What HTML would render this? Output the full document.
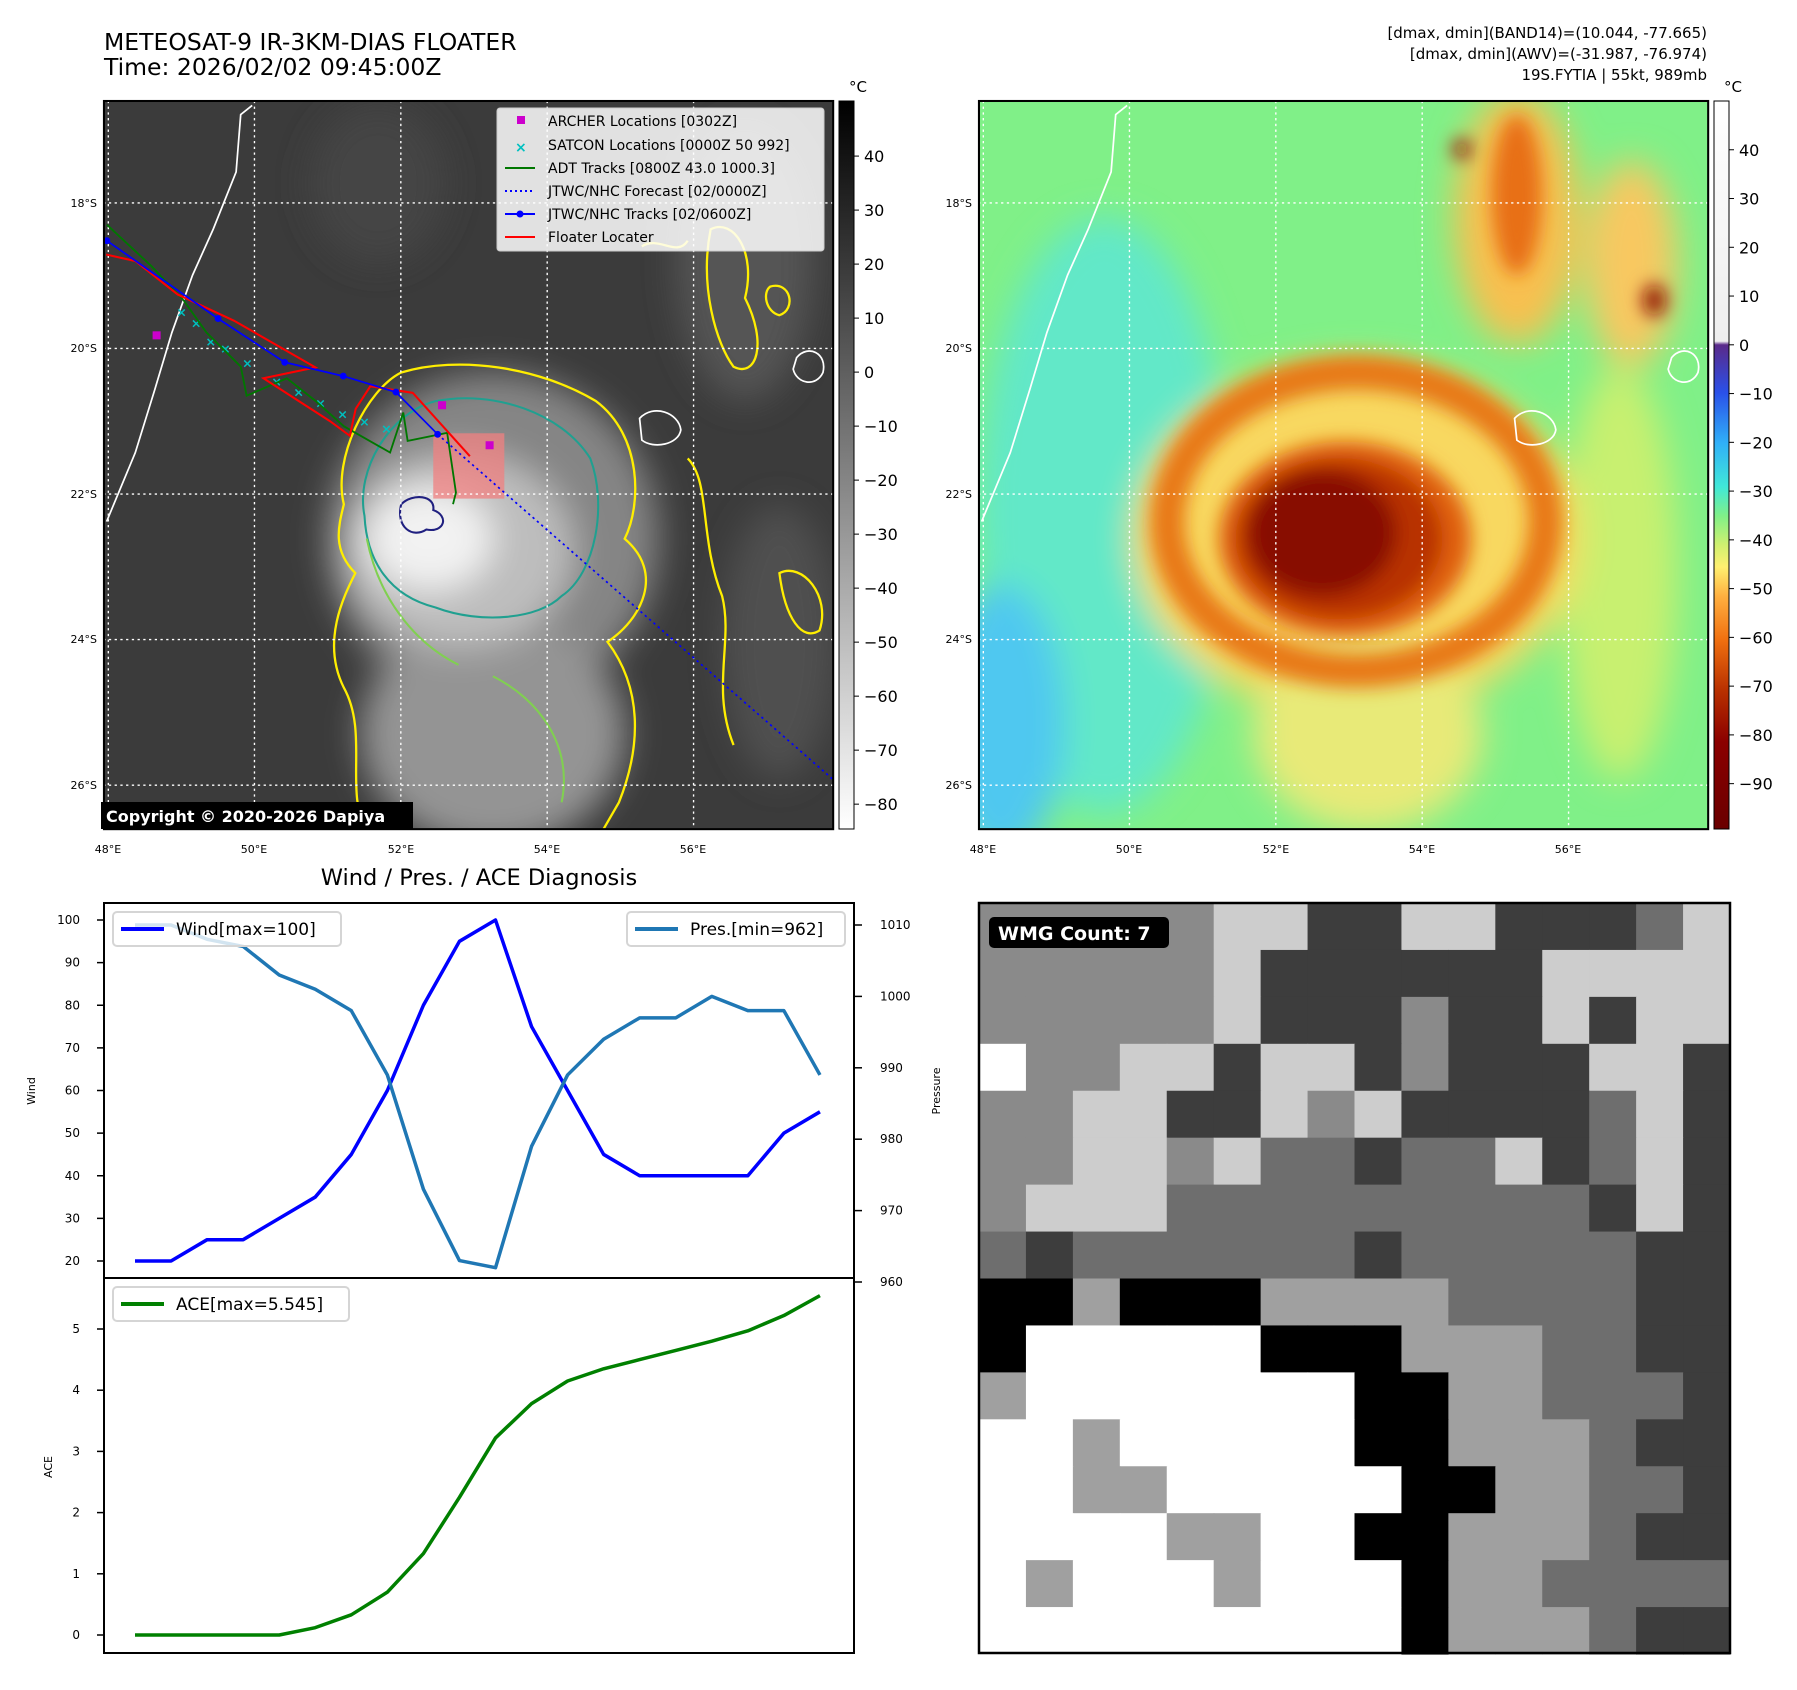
<!DOCTYPE html>
<html><head><meta charset="utf-8"><style>
html,body{margin:0;padding:0;background:#fff;}
svg{display:block;font-family:"DejaVu Sans","Liberation Sans",sans-serif;}
</style></head><body>
<svg id="fig" width="1797" height="1690" viewBox="0 0 1797 1690" xmlns="http://www.w3.org/2000/svg">
<defs>
  <clipPath id="clipL"><rect x="90.7" y="88.1" width="636.2" height="635.3"/></clipPath>
  <filter id="blur8" x="-50%" y="-50%" width="200%" height="200%"><feGaussianBlur stdDeviation="8"/></filter>
  <filter id="blur15" x="-50%" y="-50%" width="200%" height="200%"><feGaussianBlur stdDeviation="15"/></filter>
  <linearGradient id="cb1" x1="0" y1="0" x2="0" y2="1"><stop offset="0" stop-color="#000"/><stop offset="1" stop-color="#fff"/></linearGradient>
  <linearGradient id="cb2" x1="0" y1="0" x2="0" y2="1">
    <stop offset="0" stop-color="#ffffff"/><stop offset="0.33" stop-color="#eeeeee"/>
    <stop offset="0.335" stop-color="#5a2a8a"/><stop offset="0.40" stop-color="#2a50e8"/>
    <stop offset="0.47" stop-color="#30b0f8"/><stop offset="0.53" stop-color="#40e8d8"/>
    <stop offset="0.57" stop-color="#80f088"/><stop offset="0.61" stop-color="#d0f070"/>
    <stop offset="0.64" stop-color="#fff070"/><stop offset="0.68" stop-color="#ffb040"/>
    <stop offset="0.74" stop-color="#f07010"/><stop offset="0.81" stop-color="#b83000"/>
    <stop offset="0.88" stop-color="#8b0000"/><stop offset="1" stop-color="#6a0000"/>
  </linearGradient>
</defs>

<text x="104" y="50" font-size="23.5" fill="#000">METEOSAT-9 IR-3KM-DIAS FLOATER</text>
<text x="104" y="75" font-size="23.5" fill="#000">Time: 2026/02/02 09:45:00Z</text>
<g font-size="15" text-anchor="end" fill="#000">
  <text x="1707" y="38">[dmax, dmin](BAND14)=(10.044, -77.665)</text>
  <text x="1707" y="59">[dmax, dmin](AWV)=(-31.987, -76.974)</text>
  <text x="1707" y="80">19S.FYTIA | 55kt, 989mb</text>
</g>

<g transform="scale(1.1462)">
 <g clip-path="url(#clipL)">
  <rect x="90" y="88" width="640" height="640" fill="#3b3b3b"/>
  <g filter="url(#blur15)">
   <ellipse cx="650" cy="230" rx="60" ry="120" fill="#555"/>
   <ellipse cx="330" cy="160" rx="60" ry="70" fill="#444"/>
   <ellipse cx="430" cy="470" rx="145" ry="145" fill="#858585"/>
   <ellipse cx="430" cy="640" rx="115" ry="100" fill="#949494"/>
   <ellipse cx="400" cy="480" rx="100" ry="85" fill="#bdbdbd"/>
   <ellipse cx="375" cy="470" rx="55" ry="45" fill="#f2f2f2"/>
   <ellipse cx="680" cy="560" rx="50" ry="120" fill="#505050"/>
  </g>
  <path d="M300,440 C290,400 320,340 350,325 C400,310 470,320 520,350 C560,380 560,440 545,470 C580,500 560,540 530,560 C560,600 560,650 540,700 L525,726 L320,726 C300,690 322,640 300,600 C280,560 300,520 310,500 C290,480 295,460 300,440 Z" fill="none" stroke="#ffee00" stroke-width="2"/>
  <path d="M318,450 C310,410 340,360 380,350 C430,340 490,360 515,400 C530,440 520,500 490,520 C470,540 420,545 380,530 C340,520 320,490 318,450 Z" fill="none" stroke="#20a090" stroke-width="1.8"/>
  <path d="M320,470 C330,520 360,560 400,580 M430,590 C470,610 500,650 490,700" fill="none" stroke="#80d050" stroke-width="1.8"/>
  <path d="M350,440 C360,430 380,432 378,445 C392,450 388,465 372,462 C360,470 345,460 350,440 Z" fill="none" stroke="#202080" stroke-width="1.8"/>
  <path d="M620,200 C640,190 660,220 650,260 C670,300 660,330 640,320 C625,300 610,250 620,200 Z M672,250 C690,245 695,270 680,275 C668,272 665,255 672,250 Z M600,400 C620,420 610,470 630,520 C640,560 620,600 640,650 M680,500 C700,490 725,520 715,550 C700,560 685,540 680,500 Z" fill="none" stroke="#ffee00" stroke-width="2"/>
  <path d="M560,215 C575,205 590,225 600,210" fill="none" stroke="#ffee00" stroke-width="2"/>
  <rect x="378" y="378" width="62" height="57" fill="#f08080" opacity="0.75"/>
  <path d="M220,92 L210,100 L206,150 L186,200 L168,240 L150,290 L135,340 L118,395 L93,455" fill="none" stroke="#fff" stroke-width="1.5"/>
  <path d="M558,365 C570,352 592,360 594,375 C592,388 570,392 560,384 Z" fill="none" stroke="#fff" stroke-width="1.5"/>
  <path d="M695,312 C705,300 722,308 718,325 C712,338 695,335 692,322 Z" fill="none" stroke="#fff" stroke-width="1.5"/>
  <g stroke="#fff" stroke-width="1.2" stroke-dasharray="2,3" fill="none">
   <line x1="222" y1="88" x2="222" y2="724"/><line x1="349.7" y1="88" x2="349.7" y2="724"/><line x1="477.4" y1="88" x2="477.4" y2="724"/><line x1="605.1" y1="88" x2="605.1" y2="724"/>
   <line x1="94.5" y1="88" x2="94.5" y2="724"/>
   <line x1="90" y1="177" x2="728" y2="177"/><line x1="90" y1="304" x2="728" y2="304"/><line x1="90" y1="431" x2="728" y2="431"/><line x1="90" y1="558" x2="728" y2="558"/><line x1="90" y1="685" x2="728" y2="685"/>
  </g>
  <g id="tracks"></g>
 </g>
 <rect x="90.7" y="88.1" width="636.2" height="635.3" fill="none" stroke="#000" stroke-width="1.8"/>
</g>
<g>
 <rect x="497" y="108" width="327" height="143" rx="3" fill="#fff" fill-opacity="0.85" stroke="#ccc"/>
 <g font-size="14" fill="#000">
  <rect x="517" y="116" width="8" height="8" fill="#cc00cc"/><text x="548" y="126">ARCHER Locations [0302Z]</text>
  <text x="515" y="152" fill="#00c0c0" font-size="14" font-weight="bold">×</text><text x="548" y="150">SATCON Locations [0000Z 50 992]</text>
  <line x1="505" y1="168" x2="535" y2="168" stroke="#007700" stroke-width="2"/><text x="548" y="173">ADT Tracks [0800Z 43.0 1000.3]</text>
  <line x1="505" y1="191" x2="535" y2="191" stroke="#0000ff" stroke-width="2" stroke-dasharray="2,3"/><text x="548" y="196">JTWC/NHC Forecast [02/0000Z]</text>
  <line x1="505" y1="214" x2="535" y2="214" stroke="#0000ff" stroke-width="2"/><circle cx="520" cy="214" r="3.5" fill="#0000ff"/><text x="548" y="219">JTWC/NHC Tracks [02/0600Z]</text>
  <line x1="505" y1="237" x2="535" y2="237" stroke="#ff0000" stroke-width="2"/><text x="548" y="242">Floater Locater</text>
 </g>
</g>
<rect x="101" y="802" width="312" height="27" fill="#000"/>
<text x="106" y="822" font-size="16" font-weight="bold" fill="#fff">Copyright © 2020-2026 Dapiya</text>

<g font-size="11" fill="#000">
 <g text-anchor="end">
  <text x="97" y="207">18°S</text><text x="97" y="352">20°S</text><text x="97" y="498">22°S</text><text x="97" y="643">24°S</text><text x="97" y="789">26°S</text>
  <text x="972" y="207">18°S</text><text x="972" y="352">20°S</text><text x="972" y="498">22°S</text><text x="972" y="643">24°S</text><text x="972" y="789">26°S</text>
 </g>
 <g text-anchor="middle">
  <text x="108" y="853">48°E</text><text x="254" y="853">50°E</text><text x="401" y="853">52°E</text><text x="547" y="853">54°E</text><text x="693" y="853">56°E</text>
  <text x="983" y="853">48°E</text><text x="1129" y="853">50°E</text><text x="1276" y="853">52°E</text><text x="1422" y="853">54°E</text><text x="1568" y="853">56°E</text>
 </g>
</g>

<rect x="839" y="101" width="15" height="728" fill="url(#cb1)" stroke="#000" stroke-width="1"/>
<text x="849" y="92" font-size="15">°C</text>
<g id="cb1ticks" font-size="16" fill="#000"></g>

<g transform="translate(875,0) scale(1.1462)">
 <g clip-path="url(#clipL)">
  <rect x="90" y="88" width="640" height="640" fill="#80f088"/>
  <g filter="url(#blur15)">
   <ellipse cx="200" cy="450" rx="110" ry="260" fill="#62e8c8"/>
   <ellipse cx="110" cy="630" rx="55" ry="120" fill="#50c8f0"/>
   <ellipse cx="560" cy="190" rx="55" ry="110" fill="#f8c050"/>
   <ellipse cx="660" cy="230" rx="40" ry="90" fill="#f8c860"/>
   <ellipse cx="650" cy="500" rx="50" ry="180" fill="#c8f070"/>
   <ellipse cx="420" cy="470" rx="195" ry="155" fill="#f8d860"/>
   <ellipse cx="430" cy="640" rx="100" ry="85" fill="#e8ea78"/>
  </g>
  <g filter="url(#blur8)">
   <ellipse cx="420" cy="455" rx="165" ry="130" fill="none" stroke="#e87818" stroke-width="30"/>
   <ellipse cx="410" cy="470" rx="110" ry="85" fill="#e06010"/>
   <ellipse cx="405" cy="470" rx="90" ry="70" fill="#b83000"/>
   <ellipse cx="390" cy="465" rx="65" ry="55" fill="#880800"/>
   <ellipse cx="560" cy="170" rx="22" ry="70" fill="#e87018"/>
   <ellipse cx="680" cy="262" rx="10" ry="14" fill="#901000"/>
   <ellipse cx="512" cy="130" rx="8" ry="8" fill="#901000"/>
  </g>
  <path d="M220,92 L210,100 L206,150 L186,200 L168,240 L150,290 L135,340 L118,395 L93,455" fill="none" stroke="#fff" stroke-width="1.5"/>
  <path d="M558,365 C570,352 592,360 594,375 C592,388 570,392 560,384 Z" fill="none" stroke="#fff" stroke-width="1.5"/>
  <path d="M695,312 C705,300 722,308 718,325 C712,338 695,335 692,322 Z" fill="none" stroke="#fff" stroke-width="1.5"/>
  <g stroke="#fff" stroke-width="1.2" stroke-dasharray="2,3" fill="none">
   <line x1="222" y1="88" x2="222" y2="724"/><line x1="349.7" y1="88" x2="349.7" y2="724"/><line x1="477.4" y1="88" x2="477.4" y2="724"/><line x1="605.1" y1="88" x2="605.1" y2="724"/>
   <line x1="94.5" y1="88" x2="94.5" y2="724"/>
   <line x1="90" y1="177" x2="728" y2="177"/><line x1="90" y1="304" x2="728" y2="304"/><line x1="90" y1="431" x2="728" y2="431"/><line x1="90" y1="558" x2="728" y2="558"/><line x1="90" y1="685" x2="728" y2="685"/>
  </g>
 </g>
 <rect x="90.7" y="88.1" width="636.2" height="635.3" fill="none" stroke="#000" stroke-width="1.8"/>
</g>
<rect x="1714" y="101" width="15" height="728" fill="url(#cb2)" stroke="#000" stroke-width="1"/>
<text x="1724" y="92" font-size="15">°C</text>
<g id="cb2ticks" font-size="16" fill="#000"></g>

<text x="479" y="885" font-size="22.5" text-anchor="middle">Wind / Pres. / ACE Diagnosis</text>
<g id="chart"></g>
<rect x="104" y="903" width="750" height="375" fill="none" stroke="#000" stroke-width="2"/>
<rect x="104" y="1278" width="750" height="375" fill="none" stroke="#000" stroke-width="2"/>
<text transform="translate(35,1091) rotate(-90)" font-size="11" text-anchor="middle">Wind</text>
<text transform="translate(940,1091) rotate(-90)" font-size="11" text-anchor="middle">Pressure</text>
<text transform="translate(52,1467) rotate(-90)" font-size="11" text-anchor="middle">ACE</text>

<g id="wmg"></g>
<rect x="979" y="903" width="751" height="750" fill="none" stroke="#000" stroke-width="2.5"/>
<rect x="989" y="917" width="180" height="31" rx="5" fill="#000"/>
<text x="998" y="940" font-size="19" font-weight="bold" fill="#fff">WMG Count: 7</text>
</svg>

<script>
const NS='http://www.w3.org/2000/svg';
function mk(tag,attrs,parent){const e=document.createElementNS(NS,tag);for(const k in attrs)e.setAttribute(k,attrs[k]);parent.appendChild(e);return e;}

const windValues=[20,20,25,25,30,35,45,60,80,95,100,75,60,45,40,40,40,40,50,55];
const presValues=[1010,1010,1008,1007,1003,1001,998,989,973,963,962,979,989,994,997,997,1000,998,998,989];
const aceValues=[0,0,0,0,0,0.12,0.33,0.7,1.33,2.25,3.22,3.78,4.15,4.35,4.5,4.65,4.8,4.97,5.22,5.545];
const windTicks=[20,30,40,50,60,70,80,90,100];
const presTicks=[960,970,980,990,1000,1010];
const aceTicks=[0,1,2,3,4,5];
const cb1Ticks=[40,30,20,10,0,-10,-20,-30,-40,-50,-60,-70,-80];
const cb2Ticks=[40,30,20,10,0,-10,-20,-30,-40,-50,-60,-70,-80,-90];

const jtwcTrack=[[47.98,18.52],[49.5,19.59],[50.41,20.19],[51.21,20.38],[51.93,20.6],[52.5,21.18]];
const jtwcForecast=[[52.5,21.18],[57.9,25.92]];
const floaterTrack=[[47.97,18.71],[48.37,18.8],[48.95,19.26],[49.72,19.62],[50.83,20.26],[50.12,20.41],[51.03,21.0],[51.3,21.2],[51.38,20.83],[51.58,20.52],[52.16,20.61],[52.94,21.48]];
const adtTrack=[[47.98,18.3],[48.59,18.87],[49.03,19.34],[49.34,19.78],[49.81,20.25],[49.89,20.65],[50.44,20.41],[50.83,20.72],[51.22,21.07],[51.85,21.43],[52.03,20.88],[52.09,21.27],[52.63,21.16],[52.75,21.98],[52.71,22.14]];
const satconPts=[[49.0,19.5],[49.2,19.65],[49.4,19.9],[49.6,20.0],[49.9,20.2],[50.3,20.45],[50.6,20.6],[50.9,20.75],[51.2,20.9],[51.5,21.0],[51.8,21.1]];
const archerPts=[[48.66,19.82],[52.56,20.78],[53.21,21.33]];

const lonX=lon=>94.5+(lon-48)*63.85, latY=lat=>177+(lat-18)*63.5;
const tr=document.getElementById('tracks');
function poly(pts,attrs,name){const p=mk('polyline',Object.assign({points:pts.map(q=>lonX(q[0])+','+latY(q[1])).join(' '),fill:'none'},attrs),tr);
 
 return p;}
satconPts.forEach(q=>{const t=mk('text',{x:lonX(q[0]),y:latY(q[1])+4,'font-size':11,'font-weight':'bold',fill:'#00c0c0','text-anchor':'middle'},tr);t.textContent='×';
 
 });
poly(adtTrack,{stroke:'#007700','stroke-width':1.6},'adt-track');
poly(floaterTrack,{stroke:'#ff0000','stroke-width':1.8},'floater-track');
poly(jtwcTrack,{stroke:'#0000ff','stroke-width':1.5},'jtwc-track');
poly(jtwcForecast,{stroke:'#0000ff','stroke-width':1.5,'stroke-dasharray':'2,3'},'jtwc-forecast');
jtwcTrack.forEach(q=>{const c=mk('circle',{cx:lonX(q[0]),cy:latY(q[1]),r:3,fill:'#0000ff'},tr);
 
 });
archerPts.forEach(q=>{const r=mk('rect',{x:lonX(q[0])-3.5,y:latY(q[1])-3.5,width:7,height:7,fill:'#cc00cc'},tr);
 
 });

function cbTicks(gid,ticks,x,vTop,vBot){const g=document.getElementById(gid);
 ticks.forEach(v=>{const y=101+(vTop-v)/(vTop-vBot)*728;
  mk('line',{x1:x,y1:y,x2:x+5,y2:y,stroke:'#000','stroke-width':1},g);
  const t=mk('text',{x:x+10,y:y+6},g);t.textContent=(v<0?'\u2212'+(-v):v);
  
  });}
cbTicks('cb1ticks',cb1Ticks,854,50.2,-84.6);
cbTicks('cb2ticks',cb2Ticks,1729,50,-99.3);

const ch=document.getElementById('chart');
const X=i=>135+i*36.05;
const yW=v=>920+(100-v)*(341/80);
const yP=v=>925+(1010-v)*(357/50);
const yA=v=>1635-v*(306/5);
windTicks.forEach(v=>{const y=yW(v);mk('line',{x1:97,y1:y,x2:104,y2:y,stroke:'#000','stroke-width':1.5},ch);
 const t=mk('text',{x:80,y:y+4,'font-size':12,'text-anchor':'end'},ch);t.textContent=v;
 
 });
presTicks.forEach(v=>{const y=yP(v);mk('line',{x1:854,y1:y,x2:862,y2:y,stroke:'#000','stroke-width':1.5},ch);
 const t=mk('text',{x:880,y:y+4,'font-size':12},ch);t.textContent=v;
 
 });
aceTicks.forEach(v=>{const y=yA(v);mk('line',{x1:97,y1:y,x2:104,y2:y,stroke:'#000','stroke-width':1.5},ch);
 const t=mk('text',{x:80,y:y+4,'font-size':12,'text-anchor':'end'},ch);t.textContent=v;
 
 });
function line(vals,fy,color,name){const p=mk('polyline',{points:vals.map((v,i)=>X(i)+','+fy(v)).join(' '),fill:'none',stroke:color,'stroke-width':3.5,'stroke-linejoin':'round'},ch);
 
 }
line(windValues,yW,'#0000ff','wind-line');
line(presValues,yP,'#1f77b4','pressure-line');
line(aceValues,yA,'#008000','ace-line');
function legend(x,y,w,color,label,name){const g=mk('g',{},ch);
 
 
 mk('rect',{x:x,y:y,width:w,height:34,rx:4,fill:'#fff','fill-opacity':0.8,stroke:'#d5d5d5','stroke-width':2},g);
 mk('line',{x1:x+8,y1:y+17,x2:x+51,y2:y+17,stroke:color,'stroke-width':4},g);
 const t=mk('text',{x:x+63,y:y+23,'font-size':17},g);t.textContent=label;}
legend(113,912,228,'#0000ff','Wind[max=100]','wind-legend');
legend(627,912,218,'#1f77b4','Pres.[min=962]','pressure-legend');
legend(113,1287,236,'#008000','ACE[max=5.545]','ace-legend');

const wmgRows=[
'6666644114411124','6666641111114444','6666641116114144','5664414416111441',
'6644114641111241','6644642212241241','6444222222222141','2122222212222211',
'0030003333222211','0555550003332211','3555555500332221','5535555500333211',
'5533555550033221','5555335500333211','5355535550332222','5555555550333211'];
const shade={'0':'#000','1':'#3d3d3d','2':'#6e6e6e','3':'#a0a0a0','4':'#cdcdcd','5':'#fff','6':'#8a8a8a'};
const wg=document.getElementById('wmg');const cs=751/16;
wmgRows.forEach((row,r)=>{[...row].forEach((c,k)=>{const e=mk('rect',{x:979+k*cs,y:903+r*cs,width:cs+0.6,height:cs+0.6,fill:shade[c]},wg);
 
 });});
</script>
</body></html>
